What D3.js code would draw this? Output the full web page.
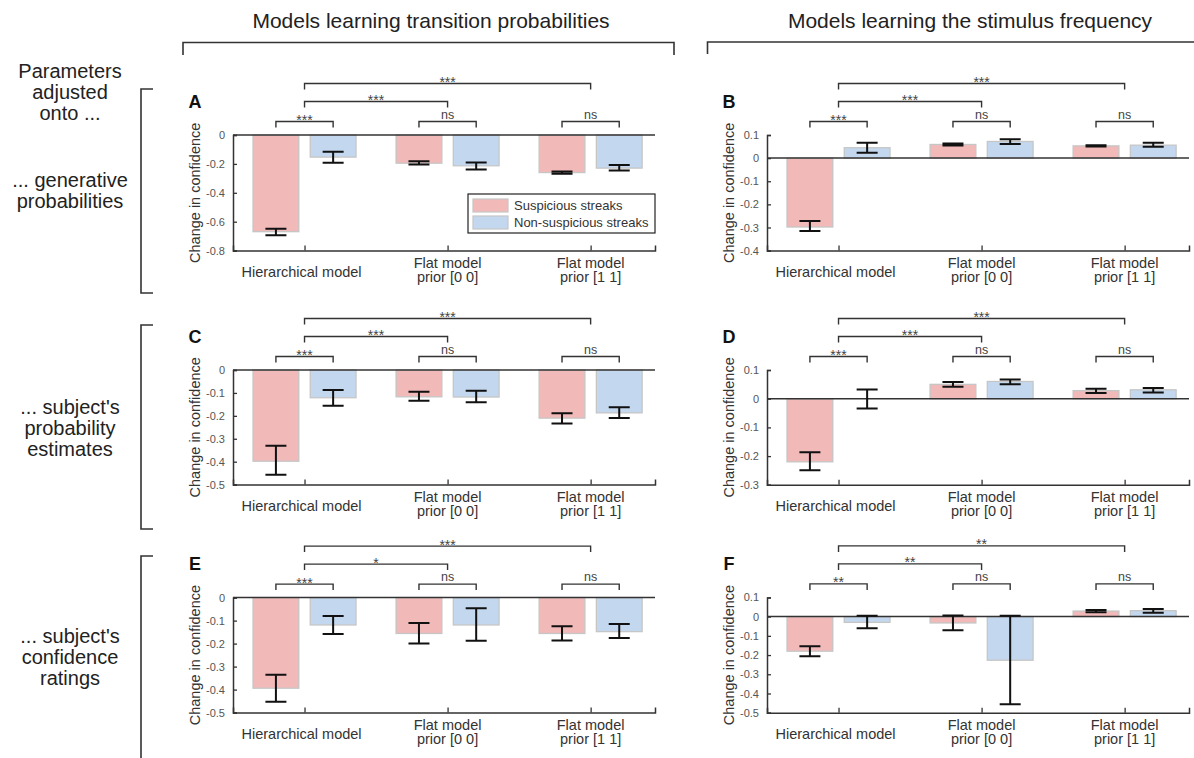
<!DOCTYPE html>
<html lang="en">
<head>
  <meta charset="UTF-8">
  <title>Change in confidence by model</title>
  <script src="https://d3js.org/d3.v7.min.js"></script>
  <style>
    body {
      margin: 0;
      background-color: #ffffff;
    }
    text {
      font-family: "Liberation Sans", Arial, sans-serif;
    }
  </style>
</head>
<body>
  <script>
    // ---- data ----
    const categories = [["Hierarchical model"], ["Flat model", "prior [0 0]"], ["Flat model", "prior [1 1]"]];
    const seriesNames = ["Suspicious streaks", "Non-suspicious streaks"];
    const columnTitles = ["Models learning transition probabilities", "Models learning the stimulus frequency"];
    const rowTitles = [["... generative", "probabilities"], ["... subject's", "probability", "estimates"], ["... subject's", "confidence", "ratings"]];
    const paramTitle = ["Parameters", "adjusted", "onto ..."];

    // each: [suspicious, non-suspicious] x [hierarchical, flat [0 0], flat [1 1]]
    const meanA = [[-0.669, -0.195, -0.260], [-0.153, -0.213, -0.229]];
    const lowA  = [[-0.694, -0.204, -0.268], [-0.192, -0.239, -0.245]];
    const highA = [[-0.648, -0.182, -0.253], [-0.116, -0.190, -0.208]];

    const meanB = [[-0.298, 0.059, 0.053], [0.045, 0.072, 0.056]];
    const lowB  = [[-0.315, 0.055, 0.050], [0.023, 0.061, 0.049]];
    const highB = [[-0.272, 0.063, 0.056], [0.066, 0.082, 0.066]];

    const meanC = [[-0.398, -0.117, -0.210], [-0.121, -0.118, -0.187]];
    const lowC  = [[-0.457, -0.134, -0.233], [-0.156, -0.141, -0.209]];
    const highC = [[-0.330, -0.095, -0.189], [-0.087, -0.090, -0.163]];

    const meanD = [[-0.220, 0.050, 0.028], [0.000, 0.060, 0.031]];
    const lowD  = [[-0.249, 0.042, 0.020], [-0.034, 0.050, 0.022]];
    const highD = [[-0.187, 0.058, 0.035], [0.032, 0.067, 0.037]];

    const meanE = [[-0.394, -0.156, -0.156], [-0.119, -0.119, -0.148]];
    const lowE  = [[-0.453, -0.200, -0.186], [-0.158, -0.188, -0.176]];
    const highE = [[-0.335, -0.110, -0.125], [-0.080, -0.046, -0.115]];

    const meanF = [[-0.180, -0.033, 0.029], [-0.030, -0.227, 0.031]];
    const lowF  = [[-0.206, -0.071, 0.023], [-0.061, -0.456, 0.020]];
    const highF = [[-0.154, 0.006, 0.035], [0.005, 0.005, 0.040]];

    // significance: pair in each group, then hier vs flat00, hier vs flat11
    const starsA = ["***", "ns", "ns", "***", "***"];
    const starsB = ["***", "ns", "ns", "***", "***"];
    const starsC = ["***", "ns", "ns", "***", "***"];
    const starsD = ["***", "ns", "ns", "***", "***"];
    const starsE = ["***", "ns", "ns", "*", "***"];
    const starsF = ["**", "ns", "ns", "**", "**"];

    const yTicksA = [-0.8, -0.6, -0.4, -0.2, 0];
    const yTicksB = [-0.4, -0.3, -0.2, -0.1, 0, 0.1];
    const yTicksC = [-0.5, -0.4, -0.3, -0.2, -0.1, 0];
    const yTicksD = [-0.3, -0.2, -0.1, 0, 0.1];
    const yTicksE = [-0.5, -0.4, -0.3, -0.2, -0.1, 0];
    const yTicksF = [-0.5, -0.4, -0.3, -0.2, -0.1, 0, 0.1];

    // ---- layout ----
    const colors = ["#f2b9b9", "#c3d8ef"];
    const panels = [
      { id: "A", x: 233, top: 135,   h: 115.6, mean: meanA, low: lowA, high: highA, stars: starsA, ticks: yTicksA, legend: true },
      { id: "B", x: 767, top: 135,   h: 115.6, mean: meanB, low: lowB, high: highB, stars: starsB, ticks: yTicksB },
      { id: "C", x: 233, top: 370,   h: 114.6, mean: meanC, low: lowC, high: highC, stars: starsC, ticks: yTicksC },
      { id: "D", x: 767, top: 370,   h: 114.8, mean: meanD, low: lowD, high: highD, stars: starsD, ticks: yTicksD },
      { id: "E", x: 233, top: 597.6, h: 115,   mean: meanE, low: lowE, high: highE, stars: starsE, ticks: yTicksE },
      { id: "F", x: 767, top: 597.4, h: 115.3, mean: meanF, low: lowF, high: highF, stars: starsF, ticks: yTicksF }
    ];
    const plotW = 422;

    const svg = d3.select("body")
        .append("svg")
        .attr("width", 1194)
        .attr("height", 758);

    // column headers and their brackets
    svg.selectAll("text.colTitle")
        .data(columnTitles)
        .enter()
        .append("text")
        .attr("class", "colTitle")
        .attr("x", (d, i) => i === 0 ? 431 : 970)
        .attr("y", 28)
        .attr("text-anchor", "middle")
        .attr("font-size", 21)
        .attr("fill", "#222")
        .text(d => d);

    svg.append("path")
        .attr("d", "M183,55 V42.5 H674 V55")
        .attr("fill", "none").attr("stroke", "#333").attr("stroke-width", 1.6);
    svg.append("path")
        .attr("d", "M707.5,54 V42 H1200")
        .attr("fill", "none").attr("stroke", "#333").attr("stroke-width", 1.6);

    // row brackets on the left
    const rowSpans = [[89, 293], [325, 529], [556, 775]];
    svg.selectAll("path.rowBracket")
        .data(rowSpans)
        .enter()
        .append("path")
        .attr("class", "rowBracket")
        .attr("d", d => `M153,${d[0]} H141 V${d[1]} H153`)
        .attr("fill", "none")
        .attr("stroke", "#333")
        .attr("stroke-width", 1.6);

    function multiLine(lines, cx, cy, size, gap) {
      const t = svg.append("text")
          .attr("text-anchor", "middle")
          .attr("font-size", size)
          .attr("fill", "#222");
      const y0 = cy - (lines.length - 1) * gap / 2 + size * 0.35;
      lines.forEach((s, i) => {
        t.append("tspan").attr("x", cx).attr("y", y0 + i * gap).text(s);
      });
    }
    multiLine(paramTitle, 70, 91.7, 20, 21);
    const rowCenters = [190.4, 428, 657];
    rowTitles.forEach((lines, i) => multiLine(lines, 70, rowCenters[i], 20, 21));

    // ---- panels ----
    panels.forEach(p => {
      const g = svg.append("g");
      const dom = [p.ticks[0], p.ticks[p.ticks.length - 1]];
      const y = d3.scaleLinear().domain(dom).range([p.top + p.h, p.top]);
      const x = d3.scaleLinear().domain([0.5, 3.45]).range([p.x, p.x + plotW]);
      const off = [-0.2, 0.2];
      const bw = 0.32;
      const capHalf = 10.5;

      const bars = [];
      p.mean.forEach((row, s) => row.forEach((v, k) => {
        bars.push({ s: s, k: k, v: v, lo: p.low[s][k], hi: p.high[s][k] });
      }));

      // bars
      g.selectAll("rect.bar")
          .data(bars)
          .enter()
          .append("rect")
          .attr("class", "bar")
          .attr("x", d => x(k1(d) - bw / 2))
          .attr("width", x(bw) - x(0))
          .attr("y", d => Math.min(y(d.v), y(0)))
          .attr("height", d => Math.abs(y(d.v) - y(0)))
          .attr("fill", d => colors[d.s])
          .attr("stroke", "#c6c6c6")
          .attr("stroke-width", 1.3);
      function k1(d) { return d.k + 1 + off[d.s]; }

      // zero line
      g.append("line")
          .attr("x1", p.x).attr("x2", p.x + plotW)
          .attr("y1", y(0)).attr("y2", y(0))
          .attr("stroke", "#333").attr("stroke-width", 1.5);

      // error bars
      g.selectAll("path.err")
          .data(bars)
          .enter()
          .append("path")
          .attr("class", "err")
          .attr("d", d => {
            const cx = x(k1(d));
            return `M${cx},${y(d.lo)} V${y(d.hi)} M${cx - capHalf},${y(d.lo)} H${cx + capHalf} M${cx - capHalf},${y(d.hi)} H${cx + capHalf}`;
          })
          .attr("fill", "none")
          .attr("stroke", "#111")
          .attr("stroke-width", 2);

      // y axis
      const yAxis = d3.axisLeft(y)
          .tickValues(p.ticks)
          .tickSize(-4)
          .tickPadding(8)
          .tickFormat(d => String(+d.toFixed(1)));
      const ya = g.append("g")
          .attr("transform", `translate(${p.x},0)`)
          .call(yAxis);
      ya.select(".domain").attr("stroke", "#333").attr("stroke-width", 1.5);
      ya.selectAll(".tick line").attr("stroke", "#333").attr("stroke-width", 1.3);
      ya.selectAll(".tick text")
          .attr("font-family", "Liberation Sans, Arial, sans-serif")
          .attr("font-size", 11)
          .attr("fill", "#555");

      // x axis at the bottom
      const xAxis = d3.axisBottom(x)
          .tickValues([1, 2, 3])
          .tickSize(-5)
          .tickFormat("");
      const xa = g.append("g")
          .attr("transform", `translate(0,${p.top + p.h})`)
          .call(xAxis);
      xa.select(".domain").attr("stroke", "#333").attr("stroke-width", 1.5);
      xa.selectAll(".tick line").attr("stroke", "#333").attr("stroke-width", 1.3);

      // category labels
      const bottom = p.top + p.h;
      categories.forEach((lines, i) => {
        const t = g.append("text")
            .attr("text-anchor", "middle")
            .attr("font-size", 14.5)
            .attr("fill", "#333");
        const y0 = lines.length === 1 ? bottom + 26 : bottom + 17;
        lines.forEach((s, j) => {
          t.append("tspan").attr("x", x(i + 1) - (lines.length === 1 ? 3 : 0)).attr("y", y0 + j * 14.5).text(s);
        });
      });

      // y label
      g.append("text")
          .attr("transform", `translate(${p.x - 38},${p.top + p.h / 2}) rotate(-90)`)
          .attr("text-anchor", "middle")
          .attr("dy", "0.35em")
          .attr("font-size", 14.5)
          .attr("fill", "#333")
          .text("Change in confidence");

      // panel letter
      g.append("text")
          .attr("x", p.x - 38)
          .attr("y", p.top - 27.5)
          .attr("text-anchor", "middle")
          .attr("font-size", 18)
          .attr("font-weight", "bold")
          .attr("fill", "#111")
          .text(p.id);

      // significance brackets
      const brackets = [
        { a: 1 + off[0], b: 1 + off[1], lev: p.top - 13.5 },
        { a: 2 + off[0], b: 2 + off[1], lev: p.top - 13.5 },
        { a: 3 + off[0], b: 3 + off[1], lev: p.top - 13.5 },
        { a: 1, b: 2, lev: p.top - 33.5 },
        { a: 1, b: 3, lev: p.top - 51.5 }
      ];
      brackets.forEach((b, i) => {
        const xa1 = x(b.a), xb1 = x(b.b);
        g.append("path")
            .attr("d", `M${xa1},${b.lev + 6} V${b.lev} H${xb1} V${b.lev + 6}`)
            .attr("fill", "none")
            .attr("stroke", "#333")
            .attr("stroke-width", 1.4);
        const lab = p.stars[i];
        g.append("text")
            .attr("x", (xa1 + xb1) / 2)
            .attr("y", lab === "ns" ? b.lev - 3 : b.lev + 3.5)
            .attr("text-anchor", "middle")
            .attr("font-size", lab === "ns" ? 12.5 : 14)
            .attr("fill", "#444")
            .text(lab);
      });

      // legend
      if (p.legend) {
        const lx = p.x + 235, ly = p.top + 59;
        g.append("rect")
            .attr("x", lx).attr("y", ly)
            .attr("width", plotW - 235).attr("height", 39)
            .attr("fill", "#fff")
            .attr("stroke", "#222").attr("stroke-width", 1.2);
        const items = g.selectAll("g.leg")
            .data(seriesNames)
            .enter()
            .append("g")
            .attr("class", "leg")
            .attr("transform", (d, i) => `translate(${lx + 5},${ly + 5 + i * 17})`);
        items.append("rect")
            .attr("width", 35).attr("height", 13)
            .attr("fill", (d, i) => colors[i])
            .attr("stroke", "#c6c6c6").attr("stroke-width", 1.2);
        items.append("text")
            .attr("x", 41).attr("y", 11)
            .attr("font-size", 13)
            .attr("fill", "#333")
            .text(d => d);
      }
    });
  </script>
</body>
</html>
